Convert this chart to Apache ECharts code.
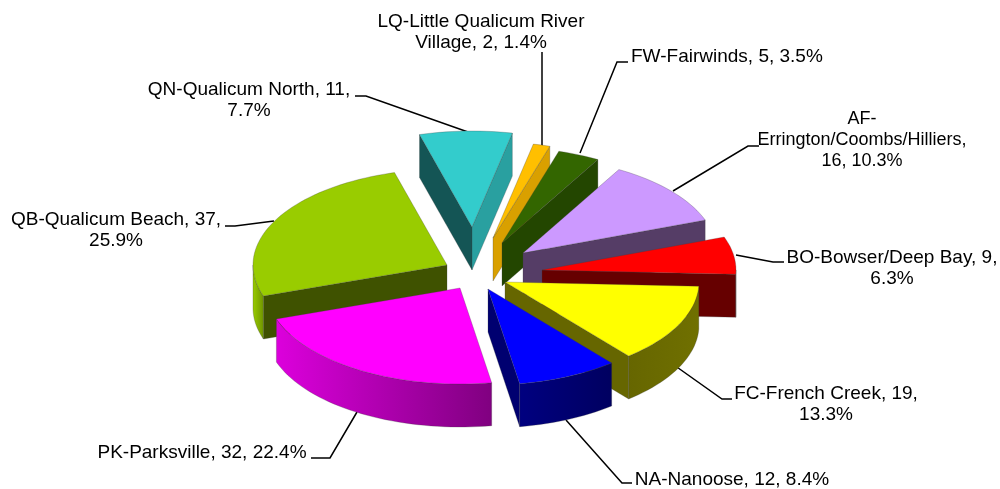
<!DOCTYPE html>
<html>
<head>
<meta charset="utf-8">
<style>html,body{margin:0;background:#fff}</style>
<script src="https://cdn.jsdelivr.net/npm/echarts@6/dist/echarts.min.js"></script>
</head>
<body>
<div id="main" style="width:1000px;height:489px;"></div>
<script type="text/javascript">
// slices, clockwise from the top
var names = ['LQ-Little Qualicum River Village', 'FW-Fairwinds', 'AF-Errington/Coombs/Hilliers', 'BO-Bowser/Deep Bay', 'FC-French Creek', 'NA-Nanoose', 'PK-Parksville', 'QB-Qualicum Beach', 'QN-Qualicum North'];
var values = [2, 5, 16, 9, 19, 12, 32, 37, 11];
var labelTexts = [
    'LQ-Little Qualicum River\nVillage, 2, 1.4%',
    'FW-Fairwinds, 5, 3.5%',
    'AF-\nErrington/Coombs/Hilliers,\n16, 10.3%',
    'BO-Bowser/Deep Bay, 9,\n6.3%',
    'FC-French Creek, 19,\n13.3%',
    'NA-Nanoose, 12, 8.4%',
    'PK-Parksville, 32, 22.4%',
    'QB-Qualicum Beach, 37,\n25.9%',
    'QN-Qualicum North, 11,\n7.7%'
];

// colours
var topColors = ['#ffbf00', '#336600', '#cc99ff', '#ff0000', '#ffff00', '#0000ff', '#ff00ff', '#99cc00', '#33cccc'];
var wallFrom = ['#d9a000', '#234600', '#553d66', '#660000', '#666600', '#000080', '#dc00dc', '#99cc00', '#29a0a0'];
var wallTo = ['#d9a000', '#234600', '#553d66', '#660000', '#707000', '#000060', '#800080', '#6f9400', '#29a0a0'];
var startFaceColors = ['#d9a000', '#234600', '#553d66', '#660000', '#666600', '#000070', '#800080', '#3f5200', '#145555'];
var endFaceColors = ['#d9a000', '#234600', '#553d66', '#660000', '#666600', '#000070', '#800080', '#3f5200', '#29a0a0'];

// layout
var cx = 475, cy = 276, rx = 194, ry = 96, depth = 43, tilt = 12;
var pull = [[18, -38], [27, -33], [48, -23], [67, -6], [30, 6], [13, 13], [-15, 12], [-28, -11], [-3, -49]];
var drawOrder = [8, 0, 1, 2, 3, 4, 7, 5, 6];
var labelPos = [[481, 11], [631, 46], [862, 109], [892, 247], [826, 383], [732, 469], [202, 442], [116, 209], [249, 79]];
var labelAlign = ['center', 'left', 'center', 'center', 'center', 'center', 'center', 'center', 'center'];
var labelSize = [19, 19, 18, 19, 19, 19, 19, 19, 19];
var leaders = [
    [[542, 52], [542, 147]],
    [[628, 62], [617, 62], [580, 153]],
    [[759, 146], [748, 146], [673, 191]],
    [[784, 262], [773, 262], [736, 255]],
    [[732, 399], [722, 399], [674, 365]],
    [[632, 483], [622, 483], [566, 420]],
    [[311, 458], [330, 458], [357, 412]],
    [[225, 226], [235, 226], [274, 221]],
    [[355, 96], [366, 96], [468, 132]]
];

var total = values.reduce(function (a, b) { return a + b; }, 0);

function startAngle(i) {
    var sum = 0;
    for (var k = 0; k < i; k++) sum += values[k];
    return sum / total * 360;
}

function rim(a, i) {
    var r = (a + tilt) * Math.PI / 180;
    return [cx + pull[i][0] + rx * Math.sin(r), cy + pull[i][1] - ry * Math.cos(r)];
}

function arc(from, to, i) {
    var pts = [];
    for (var a = from; a < to; a += 2) pts.push(rim(a, i));
    pts.push(rim(to, i));
    return pts;
}

function down(p) {
    return [p[0], p[1] + depth];
}

function face(points, fill) {
    return {
        type: 'polygon',
        shape: { points: points },
        style: { fill: fill, stroke: 'rgba(60,60,60,0.45)', lineWidth: 0.6 }
    };
}

function renderSlice(params, api) {
    var i = api.value(1);
    var a0 = startAngle(i);
    var a1 = a0 + api.value(0) / total * 360;
    var tip = [cx + pull[i][0], cy + pull[i][1]];
    var p0 = rim(a0, i), p1 = rim(a1, i);
    var children = [];

    // cut faces, only the ones turned to the viewer
    if (p0[0] < tip[0]) children.push(face([tip, p0, down(p0), down(tip)], startFaceColors[i]));
    if (p1[0] > tip[0]) children.push(face([tip, p1, down(p1), down(tip)], endFaceColors[i]));

    // outer wall, front half of the ellipse
    var w0 = Math.max(a0, 90 - tilt), w1 = Math.min(a1, 270 - tilt);
    if (w1 > w0) {
        var edge = arc(w0, w1, i);
        children.push(face(edge.concat(edge.map(down).reverse()), new echarts.graphic.LinearGradient(0, 0, 1, 0, [
            { offset: 0, color: wallFrom[i] },
            { offset: 1, color: wallTo[i] }
        ])));
    }

    children.push(face([tip].concat(arc(a0, a1, i)), topColors[i]));
    return { type: 'group', children: children };
}

var graphics = [];
labelTexts.forEach(function (text, i) {
    graphics.push({
        type: 'polyline',
        silent: true,
        shape: { points: leaders[i] },
        style: { stroke: '#000', lineWidth: 1.5, fill: null }
    });
    graphics.push({
        type: 'text',
        silent: true,
        style: {
            text: text,
            x: labelPos[i][0],
            y: labelPos[i][1],
            textAlign: labelAlign[i],
            font: labelSize[i] + 'px "Liberation Sans"',
            lineHeight: 21,
            fill: '#000'
        }
    });
});

var myChart = echarts.init(document.getElementById('main'), null, { renderer: 'canvas' });
myChart.setOption({
    animation: false,
    graphic: graphics,
    series: [{
        type: 'custom',
        coordinateSystem: 'none',
        renderItem: renderSlice,
        data: drawOrder.map(function (i) { return { name: names[i], value: [values[i], i] }; })
    }]
});
</script>
</body>
</html>
